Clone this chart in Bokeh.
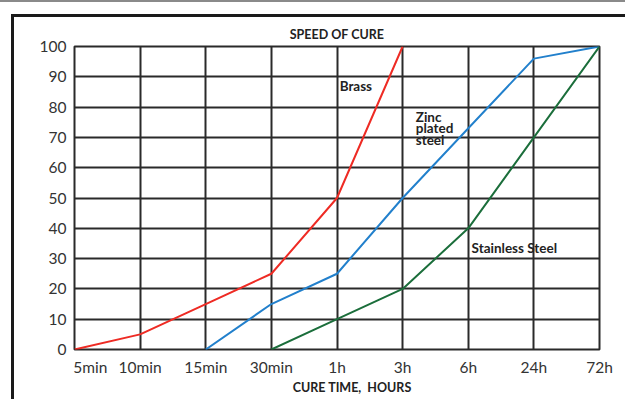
from bokeh.plotting import figure
from bokeh.models import Range1d, FixedTicker, Label
from bokeh.layouts import column
from bokeh.embed import file_html
from bokeh.resources import INLINE
import math

cure_times = ["5min", "10min", "15min", "30min", "1h", "3h", "6h", "24h", "72h"]
y_ticks = [0, 10, 20, 30, 40, 50, 60, 70, 80, 90, 100]

brass_times = ["5min", "10min", "15min", "30min", "1h", "3h"]
brass_vals = [0, 5, 15, 25, 50, 100]

zinc_times = ["15min", "30min", "1h", "3h", "24h", "72h"]
zinc_vals = [0, 15, 25, 50, 96, 100]

stainless_times = ["30min", "1h", "3h", "6h", "24h", "72h"]
stainless_vals = [0, 10, 20, 40, 70, 100]

FONT = "Lato"
GRID = "#2a2a2a"
TXT = "#222222"

p = figure(width=614, height=385, output_backend="svg", toolbar_location=None,
           x_range=Range1d(0, len(cure_times) - 1), y_range=Range1d(0, 100),
           min_border_left=60, min_border_right=29, min_border_top=29, min_border_bottom=53)
p.styles = {"margin-left": "11px", "margin-top": "12px",
            "border-left": "3px solid #1a1a1a", "border-top": "3px solid #1a1a1a"}

p.title.text = "SPEED OF CURE"
p.title.align = "center"
p.title.text_font = FONT
p.title.text_font_size = "12.5px"
p.title.text_font_style = "bold"
p.title.text_color = TXT

idx = {c: i for i, c in enumerate(cure_times)}

p.line([idx[t] for t in brass_times], brass_vals, line_color="#ee2b24", line_width=2)
p.line([idx[t] for t in zinc_times], zinc_vals, line_color="#2280cc", line_width=2)
p.line([idx[t] for t in stainless_times], stainless_vals, line_color="#1b6e3b", line_width=2)

p.xaxis.ticker = FixedTicker(ticks=list(range(len(cure_times))))
overrides = {i: c for i, c in enumerate(cure_times)}
overrides[0] = "\u00a0" * 8 + cure_times[0]
p.xaxis.major_label_overrides = overrides
p.yaxis.ticker = FixedTicker(ticks=y_ticks)

for ax in (p.xaxis[0], p.yaxis[0]):
    ax.axis_line_color = None
    ax.major_tick_line_color = None
    ax.minor_tick_line_color = None
    ax.major_tick_out = 0
    ax.major_tick_in = 0
    ax.major_label_text_font = FONT
    ax.major_label_text_font_size = "15.5px"
    ax.major_label_text_color = "#333333"
p.xaxis.major_label_standoff = 8
p.yaxis.major_label_standoff = 8

p.xaxis.axis_label = "\u00a0" * 10 + "CURE TIME,\u00a0\u00a0HOURS"
p.xaxis.axis_label_text_font = FONT
p.xaxis.axis_label_text_font_size = "12.5px"
p.xaxis.axis_label_text_font_style = "bold"
p.xaxis.axis_label_text_color = TXT
p.xaxis.axis_label_standoff = 1

p.xgrid.ticker = FixedTicker(ticks=list(range(len(cure_times))))
p.ygrid.ticker = FixedTicker(ticks=y_ticks)
for g in (p.xgrid[0], p.ygrid[0]):
    g.grid_line_color = GRID
    g.grid_line_width = 2
    g.grid_line_alpha = 1

p.outline_line_color = GRID
p.outline_line_width = 2
p.background_fill_color = "white"
p.border_fill_color = "white"

def lab(x, y, t, size="13.5px", **kw):
    p.add_layout(Label(x=x, y=y, text=t, text_font=FONT, text_font_size=size,
                       text_font_style="bold", text_color=TXT, **kw))

lab(4.04, 89.5, "Brass", text_baseline="top")
lab(5.2, 79.5, "Zinc", text_baseline="top")
lab(5.2, 75.7, "plated", text_baseline="top")
lab(5.2, 71.9, "steel", text_baseline="top")
lab(6.05, 36, "Stainless Steel", text_baseline="top")
lab(-0.69, 45.5, "% FINAL STRENGTH", size="12.5px", text_align="center", text_baseline="middle",
    angle=math.pi / 2)

layout = column(p, styles={"border-top": "2px solid #8a8a8a"})

open("out.html", "w").write(file_html(layout, INLINE))
